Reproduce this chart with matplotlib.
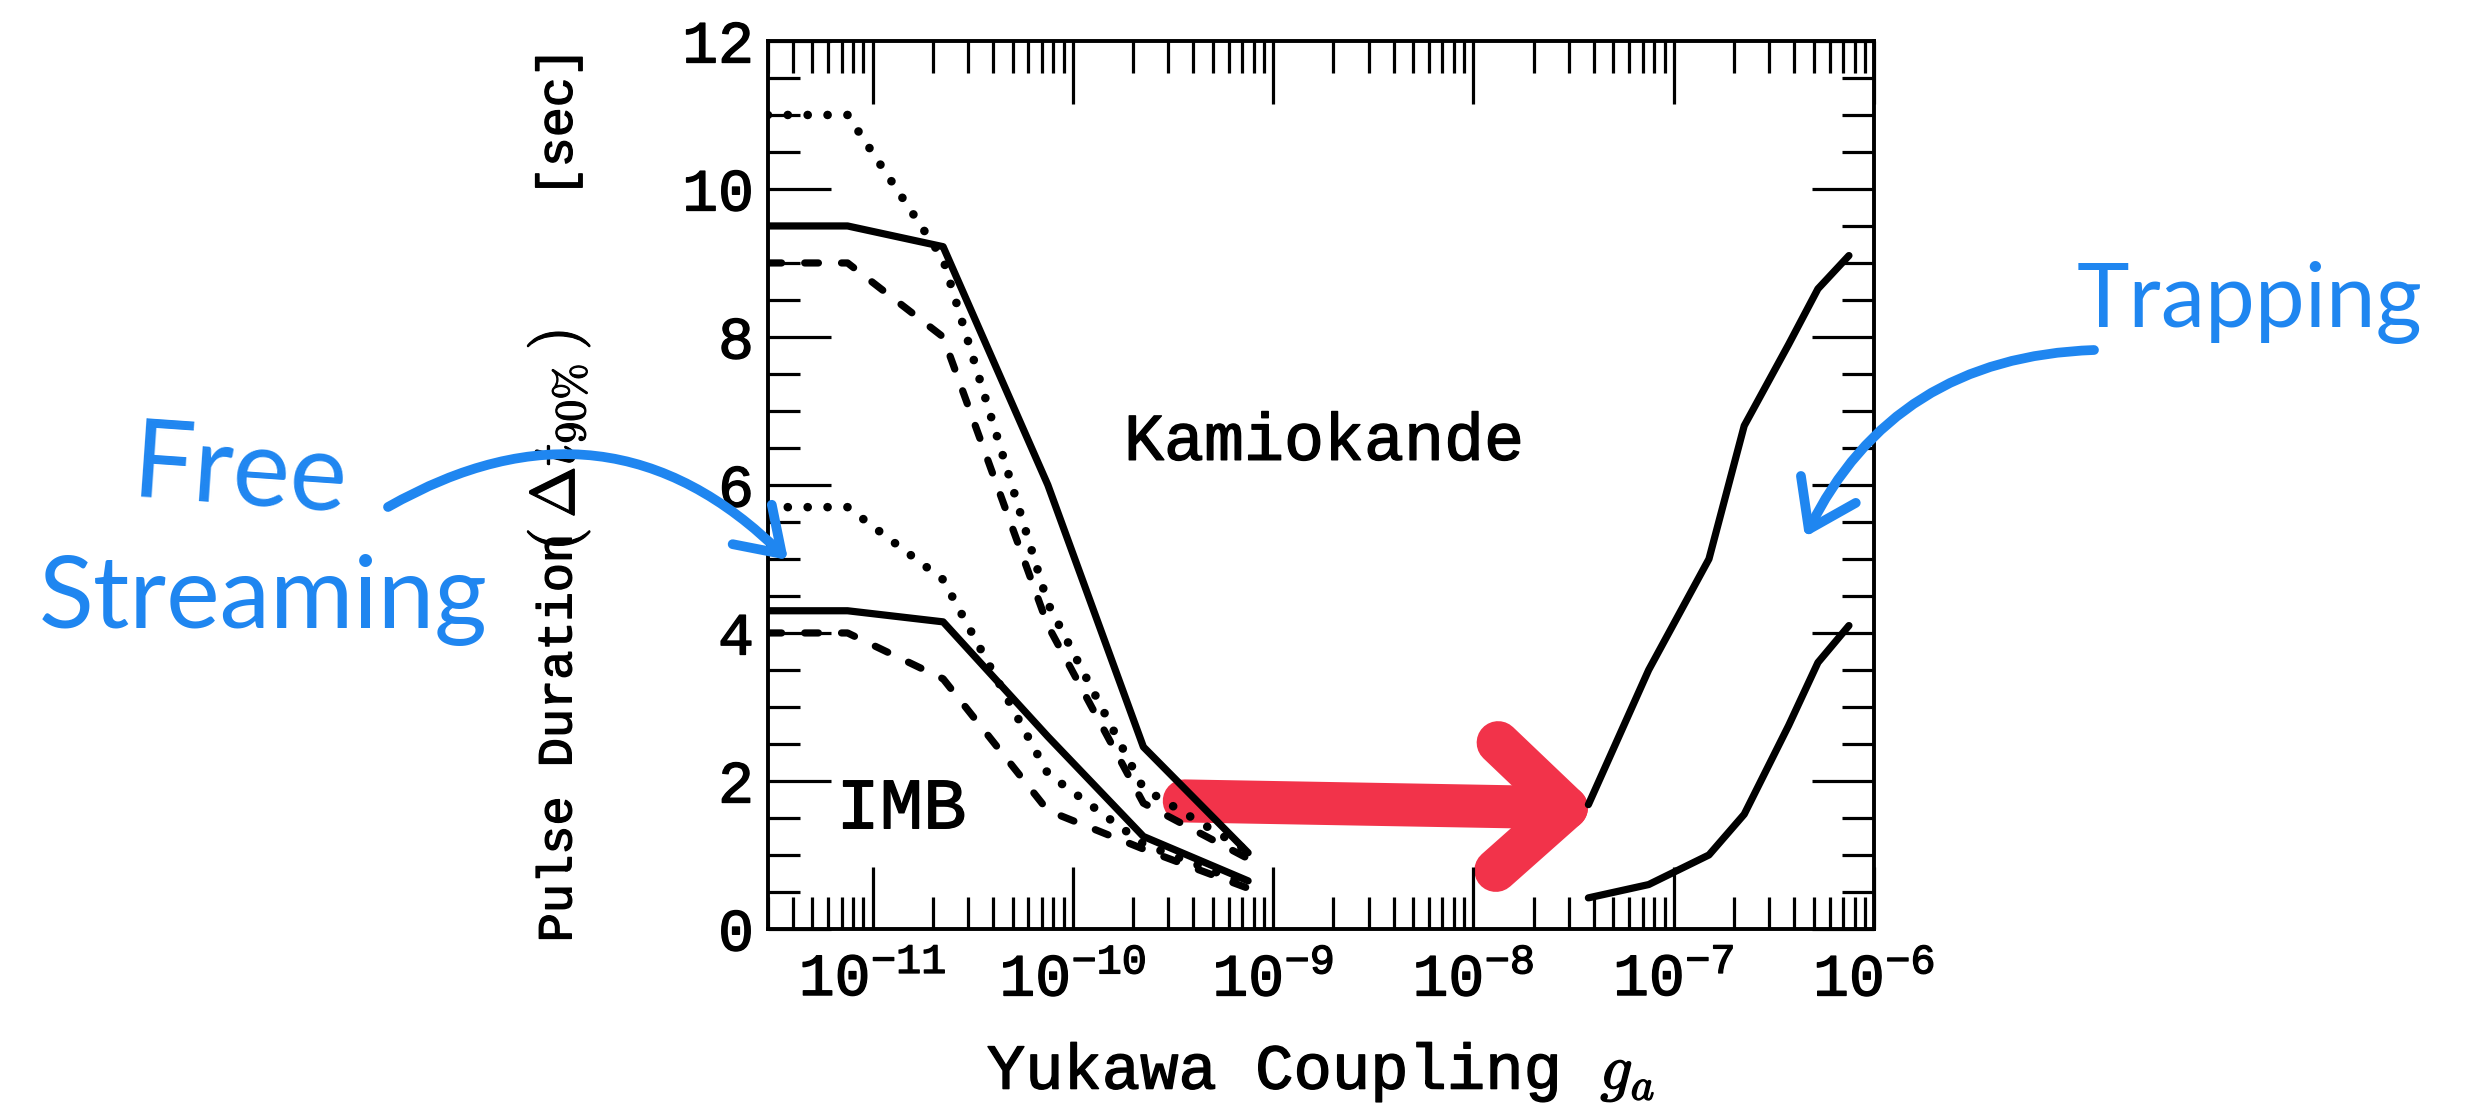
import matplotlib
matplotlib.use('Agg')
import matplotlib.pyplot as plt
import matplotlib.patheffects as pe
from matplotlib.patches import FancyArrowPatch, ArrowStyle
from matplotlib.ticker import MultipleLocator, LogLocator, NullFormatter

plt.rcParams['font.family'] = ['Liberation Mono', 'DejaVu Sans Mono']
plt.rcParams['mathtext.fontset'] = 'cm'

# free-streaming regime (small couplings)
g_free = [3.0e-12, 7.5e-12, 2.25e-11, 7.5e-11, 2.25e-10, 7.5e-10]
kam_solid = [9.5, 9.5, 9.22, 6.0, 2.46, 1.03]
kam_dotted = [11.0, 11.0, 9.05, 4.4, 1.9, 1.05]
kam_dashed = [9.0, 9.0, 8.0, 4.1, 1.7, 0.95]
imb_solid = [4.3, 4.3, 4.15, 2.6, 1.25, 0.65]
imb_dotted = [5.7, 5.7, 4.72, 2.1, 1.15, 0.6]
imb_dashed = [4.0, 4.0, 3.38, 1.6, 1.08, 0.55]

# trapping regime (large couplings)
g_trap = [3.75e-8, 7.5e-8, 1.5e-7, 2.25e-7, 3.75e-7, 5.25e-7, 7.5e-7]
kam_trap = [1.68, 3.5, 5.0, 6.8, 7.9, 8.65, 9.1]
imb_trap = [0.42, 0.6, 1.0, 1.55, 2.75, 3.6, 4.1]

blue = '#1f86f0'
red = '#f2334a'
lw = 5.2
bold = [pe.withStroke(linewidth=1.0, foreground='black')]

fig = plt.figure(figsize=(24.69, 11.16), dpi=100)
ax = fig.add_axes([0.311, 0.1676, 0.448, 0.7957])

styles = [(kam_solid, '-', lw), (kam_dotted, (0, (0.01, 2.3)), 6.2),
          (kam_dashed, (0, (1.9, 3.2)), lw), (imb_solid, '-', lw),
          (imb_dotted, (0, (0.01, 2.3)), 6.2), (imb_dashed, (0, (1.9, 3.2)), lw)]
for y, ls, w in styles:
    ax.plot(g_free, y, color='black', lw=w, linestyle=ls,
            dash_capstyle='round', solid_capstyle='round', solid_joinstyle='round')
for y in (kam_trap, imb_trap):
    ax.plot(g_trap, y, color='black', lw=lw, solid_capstyle='round',
            solid_joinstyle='round')

ax.set_xscale('log')
ax.set_xlim(3e-12, 1e-6)
ax.set_ylim(0, 12)
ax.yaxis.set_major_locator(MultipleLocator(2))
ax.yaxis.set_minor_locator(MultipleLocator(0.5))
ax.xaxis.set_major_locator(LogLocator(base=10, numticks=20))
ax.xaxis.set_minor_locator(LogLocator(base=10, subs=range(2, 10), numticks=20))
ax.xaxis.set_minor_formatter(NullFormatter())
ax.tick_params(which='both', direction='in', top=True, right=True, width=2.3,
               labelsize=43)
ax.tick_params(which='major', length=45)
ax.tick_params(which='minor', length=23)
ax.tick_params(axis='y', pad=10)
ax.tick_params(axis='x', pad=17)
for s in ax.spines.values():
    s.set_linewidth(2.8)

ax.text(1.8e-10, 6.34, 'Kamiokande', fontsize=48, va='baseline', ha='left',
        path_effects=bold)
ax.text(6.6e-12, 1.36, 'IMB', fontsize=52, va='baseline', ha='left',
        path_effects=bold)

ax.set_xlabel('Yukawa Coupling $g_a$', fontsize=46, path_effects=bold)
ax.xaxis.set_label_coords(0.5, -0.125)

# y label in three pieces so the math part can be larger
ylab_x = -0.189
ax.text(ylab_x, -0.015, 'Pulse Duration', transform=ax.transAxes, rotation=90,
        ha='center', va='bottom', fontsize=35, path_effects=bold)
ax.text(ylab_x, 0.425, '$(\\,\\Delta t_{90\\%}\\,)$', transform=ax.transAxes,
        rotation=90, ha='center', va='bottom', fontsize=45,
        path_effects=[pe.withStroke(linewidth=0.8, foreground='black')])
ax.text(ylab_x, 0.824, '[sec]', transform=ax.transAxes, rotation=90,
        ha='center', va='bottom', fontsize=36, path_effects=bold)

for t in ax.get_xticklabels() + ax.get_yticklabels():
    t.set_path_effects(bold)

# red arrow across the gap between the two regimes
red_arrow = FancyArrowPatch((3.6e-10, 1.73), (4.2e-8, 1.63),
                            arrowstyle=ArrowStyle('->', head_length=50, head_width=46),
                            mutation_scale=1, lw=31, color=red,
                            shrinkA=0, shrinkB=0, capstyle='round', joinstyle='round')
ax.add_patch(red_arrow)

# hand-drawn notes
hand = ['Lato', 'DejaVu Sans']
fig.text(240 / 2469, 1 - 474 / 1116, 'Free', rotation=-4, ha='center', va='center',
         color=blue, fontsize=78, family=hand)
fig.text(263 / 2469, 1 - 600 / 1116, 'Streaming', ha='center', va='center',
         color=blue, fontsize=73, family=hand)
fig.text(2250 / 2469, 1 - 302 / 1116, 'Trapping', ha='center', va='center',
         color=blue, fontsize=64, family=hand)

free_arrow = FancyArrowPatch((388 / 2469, 1 - 507 / 1116), (788 / 2469, 1 - 560 / 1116),
                             transform=fig.transFigure, connectionstyle='arc3,rad=-0.38',
                             arrowstyle=ArrowStyle('->', head_length=30, head_width=20),
                             mutation_scale=1, lw=7, color=blue,
                             shrinkA=0, shrinkB=0, capstyle='round', joinstyle='round')
trap_arrow = FancyArrowPatch((2094 / 2469, 1 - 350 / 1116), (1805 / 2469, 1 - 537 / 1116),
                             transform=fig.transFigure, connectionstyle='arc3,rad=0.3',
                             arrowstyle=ArrowStyle('->', head_length=32, head_width=22),
                             mutation_scale=1, lw=7, color=blue,
                             shrinkA=0, shrinkB=0, capstyle='round', joinstyle='round')
fig.patches.extend([free_arrow, trap_arrow])

fig.savefig('out.png', dpi=100, facecolor='white')
